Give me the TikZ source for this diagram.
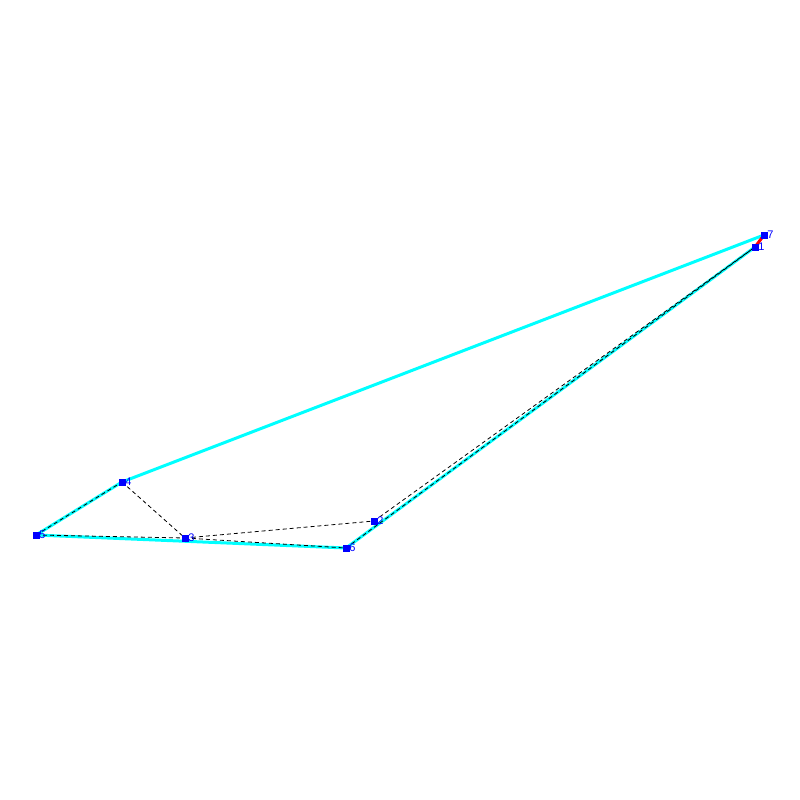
\documentclass[tikz,border=0pt]{standalone}
\usepackage{fontspec}
\setmainfont{Liberation Sans}
\usetikzlibrary{positioning}
\definecolor{hullcyan}{RGB}{0,255,255}
\definecolor{markblue}{RGB}{0,0,255}
\definecolor{edgered}{RGB}{255,0,0}
\tikzset{
  pt/.style={rectangle,fill=markblue,inner sep=0pt,minimum size=7pt},
  lbl/.style={text=markblue,font=\fontsize{11}{11}\selectfont,inner sep=0pt,label distance=-0.5pt},
  hull/.style={hullcyan,line width=3pt},
  diag/.style={black,line width=0.8pt,dash pattern=on 4pt off 3pt}
}
\begin{document}
\begin{tikzpicture}[x=1pt,y=-1pt]
  \useasboundingbox (0,0) rectangle (800,800);
  \fill[white] (0,0) rectangle (800,800);

  % points
  \coordinate (p1) at (755,247);
  \coordinate (p2) at (374,521);
  \coordinate (p3) at (185,538);
  \coordinate (p4) at (122,482);
  \coordinate (p5) at (36,535);
  \coordinate (p6) at (346,548);
  \coordinate (p7) at (764,235);

  % outline
  \draw[hull,line join=round] (p1) -- (p6) -- (p5) -- (p4) -- (p7);
  \draw[edgered,line width=3pt] (p1) -- (p7);

  % diagonals
  \draw[diag] (p5) -- (p4);
  \draw[diag] (p4) -- (p3);
  \draw[diag] (p3) -- (p2);
  \draw[diag] (p2) -- (p1);
  \draw[diag] (p1) -- (p6);
  \draw[diag] (p5) -- (p3);
  \draw[diag] (p3) -- (p6);

  % markers
  \foreach \i in {1,...,7}
    \node[pt,label={[lbl]right:\i}] (m\i) at (p\i) {};
\end{tikzpicture}
\end{document}
